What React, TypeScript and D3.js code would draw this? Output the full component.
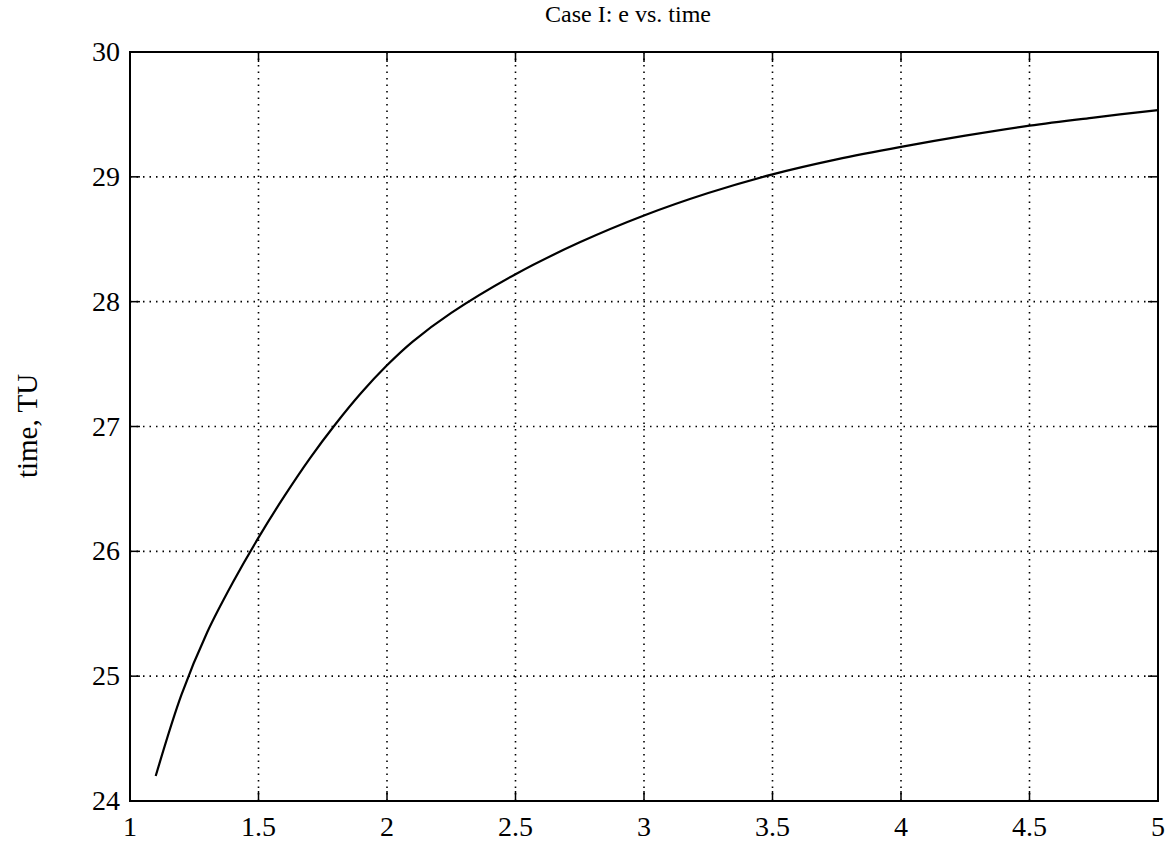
import React from "react";
import * as d3 from "d3";

// e values (x) and time in TU (y)
const eValues = [1.1, 1.2, 1.3, 1.4, 1.5, 1.6, 1.7, 1.8, 1.9, 2.0, 2.1, 2.25, 2.5, 2.75, 3.0, 3.25, 3.5, 3.75, 4.0, 4.25, 4.5, 4.75, 5.0];
const timeValues = [24.2, 24.85, 25.35, 25.75, 26.11, 26.44, 26.745, 27.02, 27.27, 27.49, 27.68, 27.91, 28.22, 28.475, 28.69, 28.87, 29.02, 29.14, 29.24, 29.33, 29.41, 29.475, 29.535];
const xTicks = [1, 1.5, 2, 2.5, 3, 3.5, 4, 4.5, 5];
const yTicks = [24, 25, 26, 27, 28, 29, 30];
const title = "Case I: e vs. time";
const yLabel = "time, TU";

const W = 1169, H = 844;
const margin = { top: 52, right: 11, bottom: 43, left: 130 };

export default function App() {
  const width = W - margin.left - margin.right;
  const height = H - margin.top - margin.bottom;

  const x = d3.scaleLinear().domain([1, 5]).range([0, width]);
  const y = d3.scaleLinear().domain([24, 30]).range([height, 0]);

  const pts = eValues.map((e, i) => [e, timeValues[i]] as [number, number]);
  const line = d3
    .line<[number, number]>()
    .x((d) => x(d[0]))
    .y((d) => y(d[1]))
    .curve(d3.curveCatmullRom.alpha(0.5));

  const font = "'Liberation Serif', 'Times New Roman', serif";

  return (
    <svg width={W} height={H} style={{ position: "absolute", left: 0, top: 0, background: "#fff" }}>
      <g transform={`translate(${margin.left},${margin.top})`}>
        {/* grid */}
        {xTicks.slice(1, -1).map((t) => (
          <line key={"gx" + t} x1={x(t)} x2={x(t)} y1={0} y2={height} stroke="#000" strokeWidth={1.6} strokeDasharray="1.5,5" />
        ))}
        {yTicks.slice(1, -1).map((t) => (
          <line key={"gy" + t} x1={0} x2={width} y1={y(t)} y2={y(t)} stroke="#000" strokeWidth={1.6} strokeDasharray="1.5,5" />
        ))}
        {/* inward ticks */}
        {xTicks.map((t) => (
          <g key={"tx" + t}>
            <line x1={x(t)} x2={x(t)} y1={height} y2={height - 10} stroke="#000" strokeWidth={1.5} />
            <line x1={x(t)} x2={x(t)} y1={0} y2={10} stroke="#000" strokeWidth={1.5} />
          </g>
        ))}
        {yTicks.map((t) => (
          <g key={"ty" + t}>
            <line x1={0} x2={10} y1={y(t)} y2={y(t)} stroke="#000" strokeWidth={1.5} />
            <line x1={width} x2={width - 10} y1={y(t)} y2={y(t)} stroke="#000" strokeWidth={1.5} />
          </g>
        ))}
        {/* frame */}
        <rect x={0} y={0} width={width} height={height} fill="none" stroke="#000" strokeWidth={2} />
        {/* curve */}
        <path d={line(pts) || ""} fill="none" stroke="#000" strokeWidth={2.2} />
        {/* tick labels */}
        {xTicks.map((t) => (
          <text key={"lx" + t} x={x(t)} y={height + 35} textAnchor="middle" fontFamily={font} fontSize={28} fill="#000">
            {t}
          </text>
        ))}
        {yTicks.map((t) => (
          <text key={"ly" + t} x={-10} y={y(t) + 9} textAnchor="end" fontFamily={font} fontSize={28} fill="#000">
            {t}
          </text>
        ))}
      </g>
      <text x={628} y={22} textAnchor="middle" fontFamily={font} fontSize={24} fill="#000">
        {title}
      </text>
      <text transform={`translate(37,426) rotate(-90)`} textAnchor="middle" fontFamily={font} fontSize={29} fill="#000">
        {yLabel}
      </text>
    </svg>
  );
}
